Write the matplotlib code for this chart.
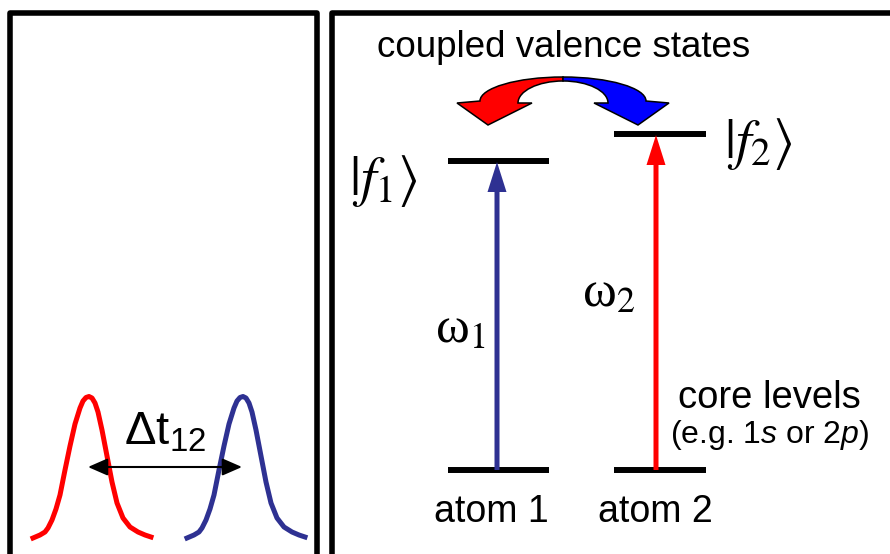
import numpy as np
import matplotlib
matplotlib.use('Agg')
import matplotlib.pyplot as plt
from matplotlib.path import Path
from matplotlib.patches import PathPatch

# everything below is in pixel units of the 890 x 554 canvas (y grows downwards)

pulse_x = [33, 40, 45, 48, 52, 56, 60, 65, 70, 75, 80, 83, 86, 89, 92, 95, 98,
           102, 107, 112, 117, 123, 130, 138, 145, 151]
pulse_y = [538, 535, 532, 528, 520, 509, 495, 470, 446, 424, 408, 401, 397.5, 396.5,
           398, 403, 412, 430, 456, 482, 503, 518, 527, 532, 535, 537]
pulse_delay = 154
pulse_peaks = [88, 242]
delay_arrow_y = 467

# energy level diagram
atoms = ['atom 1', 'atom 2']
atom_label_x = [491, 655]
level_spans = [(448, 549), (614, 706)]
core_y = 470
valence_y = [161, 134]
transition_x = [497, 656]
valence_labels = [r'$|f_1\rangle$', r'$|f_2\rangle$']
valence_label_pos = [(349, 181), (724, 144)]
freq_labels = ['ω$_1$', 'ω$_2$']
freq_label_pos = [(435, 342), (582, 306)]

# left half of the exchange arrow (the right half is mirrored about swap_mid)
swap_mid = 563
swap_verts = [(563, 77), (517, 77), (480, 88), (480, 101), (457, 103), (488, 125),
              (532, 103), (518, 103), (518, 91), (538, 81), (563, 81), (563, 77)]
swap_codes = [Path.MOVETO, Path.CURVE4, Path.CURVE4, Path.CURVE4, Path.LINETO,
              Path.LINETO, Path.LINETO, Path.LINETO, Path.CURVE4, Path.CURVE4,
              Path.CURVE4, Path.CLOSEPOLY]

RED = '#ff0000'
NAVY = '#2e3192'
BLUE = '#0000ff'

plt.rcParams['font.family'] = 'Liberation Sans'
plt.rcParams['mathtext.fontset'] = 'custom'
plt.rcParams['mathtext.rm'] = 'Liberation Sans'
plt.rcParams['mathtext.it'] = 'Liberation Sans:italic'

fig = plt.figure(figsize=(8.9, 5.54), dpi=100)
ax = fig.add_axes([0, 0, 1, 1])
ax.set_xlim(0, 890)
ax.set_ylim(554, 0)
ax.axis('off')

# panel frames
ax.plot([10, 10, 317, 317], [570, 13, 13, 570], color='k', lw=4,
        solid_joinstyle='round')
ax.plot([332, 332, 900], [570, 13, 13], color='k', lw=4, solid_joinstyle='round')

# --- left panel: two delayed pulses ---
ax.plot(pulse_x, pulse_y, color=RED, lw=3.6, solid_joinstyle='round')
ax.plot(np.array(pulse_x) + pulse_delay, pulse_y, color=NAVY, lw=3.6,
        solid_joinstyle='round')
ax.annotate('', xy=(pulse_peaks[1], delay_arrow_y),
            xytext=(pulse_peaks[0], delay_arrow_y),
            arrowprops=dict(arrowstyle='<|-|>,head_length=0.8,head_width=0.35',
                            color='k', lw=1.5, mutation_scale=15,
                            shrinkA=0, shrinkB=0), zorder=5)
ax.text(165, 444, 'Δt$_{12}$', fontsize=34, ha='center', va='baseline')

# --- right panel: levels and transitions ---
for (x0, x1), y_top in zip(level_spans, valence_y):
    ax.plot([x0, x1], [y_top, y_top], color='k', lw=4.3, solid_capstyle='butt')
    ax.plot([x0, x1], [core_y, core_y], color='k', lw=4.3, solid_capstyle='butt')

for x, y_top, c in zip(transition_x, valence_y, [NAVY, RED]):
    ax.arrow(x, core_y, 0, y_top + 1 - core_y, width=5, head_width=19,
             head_length=30, length_includes_head=True, color=c, lw=0, zorder=4)

# exchange arrow between the valence states
left_half = Path(swap_verts, swap_codes)
right_half = Path([(2 * swap_mid - vx, vy) for vx, vy in swap_verts], swap_codes)
ax.add_patch(PathPatch(left_half, facecolor=RED, edgecolor='k', lw=1.1))
ax.add_patch(PathPatch(right_half, facecolor=BLUE, edgecolor='k', lw=1.1))

ax.text(564, 57, 'coupled valence states', fontsize=26.5, ha='center',
        va='baseline')

for (x, y), label in zip(valence_label_pos, valence_labels):
    ax.text(x, y, label, fontsize=40, math_fontfamily='stix', ha='left',
            va='center')

for (x, y), label in zip(freq_label_pos, freq_labels):
    ax.text(x, y, label, family='Liberation Serif', fontsize=37,
            math_fontfamily='stix', va='baseline')

ax.text(769, 408, 'core levels', fontsize=27.5, ha='center', va='baseline')
ax.text(770, 443, '(e.g. 1$s$ or 2$p$)', fontsize=23, ha='center', va='baseline')

for x, name in zip(atom_label_x, atoms):
    ax.text(x, 522, name, fontsize=27, ha='center', va='baseline')

fig.savefig('out.png', dpi=100)
